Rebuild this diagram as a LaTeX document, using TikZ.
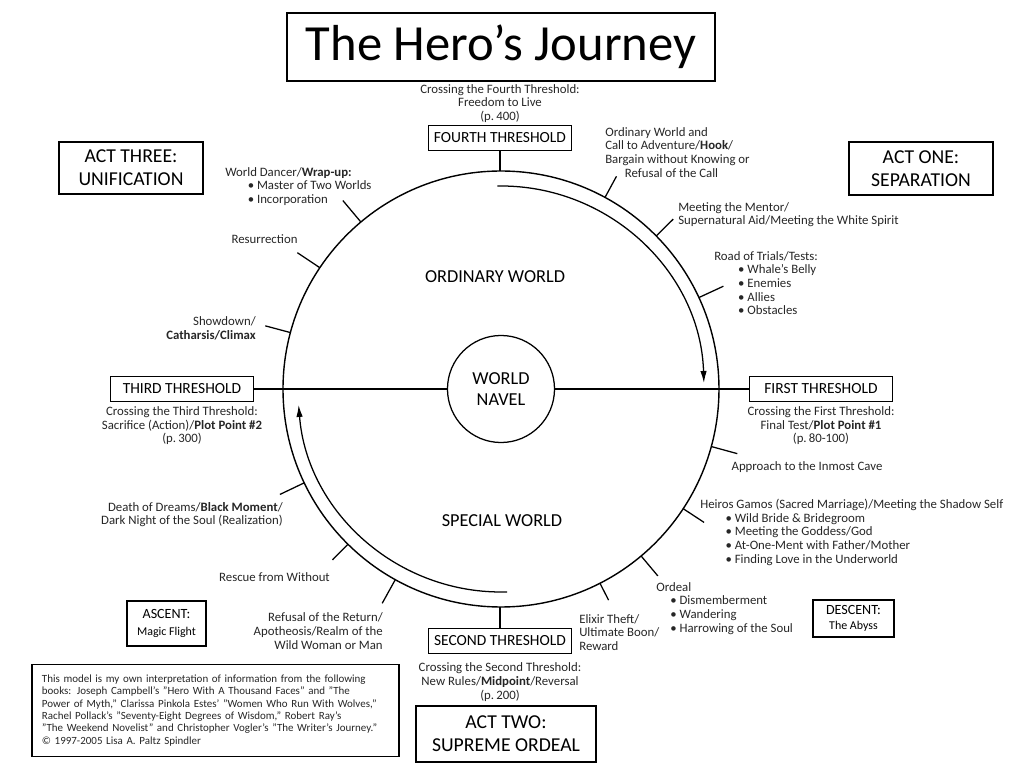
\documentclass[tikz,border=0pt]{standalone}
\usepackage{fontspec}
\setmainfont{Carlito}
\usetikzlibrary{arrows.meta,positioning}

\newcommand{\bul}[2][1.2em]{\hspace*{#1}\textbullet\ #2}

\begin{document}
\begin{tikzpicture}[
  x=0.025cm, y=0.025cm,
  threshold/.style={draw, line width=0.9pt, minimum width=3.575cm, minimum height=0.625cm, inner sep=0pt, font=\fontsize{11}{12}\selectfont},
  act/.style={draw, line width=0.9pt, align=center, inner sep=0pt, font=\fontsize{14}{16.5}\selectfont},
  note/.style={inner sep=0pt, text=black!85, font=\fontsize{9.1}{9.7}\selectfont},
  world/.style={font=\fontsize{13}{14}\selectfont},
  ring/.style={line width=1pt},
  tick/.style={line width=0.9pt},
  arrow/.style={-{Latex[length=3mm,width=1.6mm]}, line width=0.9pt},
]
\useasboundingbox (-501,-380) rectangle (521,389);

% Title
\node[act, minimum width=10.7cm, minimum height=1.7cm, font=\fontsize{36}{40}\selectfont] (title) at (0,342) {The Hero's Journey};

% Circle and world navel
\draw[ring] (0,0) circle (218);
\coordinate (top) at (90:218);
\coordinate (bottom) at (270:218);
\node[draw, circle, line width=0.9pt, minimum size=2.675cm, align=center, inner sep=0pt, font=\fontsize{13}{14.5}\selectfont] (navel) at (0,0) {WORLD\\NAVEL};
\node[world] (ordinary) at (-6,112) {ORDINARY WORLD};
\node[world] (special) at (1,-132) {SPECIAL WORLD};

% Thresholds
\node[threshold] (fourth) at (-1,251) {FOURTH THRESHOLD};
\node[threshold] (first) at (320,0) {FIRST THRESHOLD};
\node[threshold] (second) at (-1,-252) {SECOND THRESHOLD};
\node[threshold] (third) at (-319,0) {THIRD THRESHOLD};
\draw[tick] (fourth) -- (fourth |- top);
\draw[tick] (second) -- (second |- bottom);
\draw[tick] (third) -- (navel);
\draw[tick] (navel) -- (first);

\node[note, align=center, above=1.5pt of fourth] (crossfourth) {Crossing the Fourth Threshold:\\Freedom to Live\\(p.\,400)};
\node[note, align=center, below=3pt of first] (crossfirst) {Crossing the First Threshold:\\Final Test/\textbf{Plot Point \#1}\\(p.\,80-100)};
\node[note, align=center, below=6pt of second] (crosssecond) {Crossing the Second Threshold:\\New Rules/\textbf{Midpoint}/Reversal\\(p.\,200)};
\node[note, align=center, below=3pt of third] (crossthird) {Crossing the Third Threshold:\\Sacrifice (Action)/\textbf{Plot Point \#2}\\(p.\,300)};

% Direction of travel
\draw[arrow] (91:203) arc[start angle=91, end angle=1.7, radius=203];
\draw[arrow] (271.7:203) arc[start angle=271.7, end angle=184.5, radius=203];

% Stages, act one
\draw[tick] (61.5:218) -- (61.5:242);
\node[note, align=left, anchor=north west] (call) at (104,262) {Ordinary World and\\Call to Adventure/\textbf{Hook}/\\Bargain without Knowing or\\\hspace*{14pt}Refusal of the Call};
\draw[tick] (44.6:218) -- (44.6:242);
\node[note, align=left, anchor=north west] (mentor) at (177,187) {Meeting the Mentor/\\Supernatural Aid/Meeting the White Spirit};
\draw[tick] (24.8:218) -- (24.8:245);
\node[note, align=left, anchor=north west] (trials) at (213,138) {Road of Trials/Tests:\\\bul[17pt]{Whale's Belly}\\\bul[17pt]{Enemies}\\\bul[17pt]{Allies}\\\bul[17pt]{Obstacles}};

% Stages, act two
\draw[tick] (-15.3:218) -- (-15.3:245);
\node[note] (cave) at (306,-78) {Approach to the Inmost Cave};
\draw[tick] (-33.3:218) -- (-33.3:243);
\node[note, align=left, anchor=north west] (gamos) at (199,-110) {Heiros Gamos (Sacred Marriage)/Meeting the Shadow Self\\\bul[18pt]{Wild Bride \& Bridegroom}\\\bul[18pt]{Meeting the Goddess/God}\\\bul[18pt]{At-One-Ment with Father/Mother}\\\bul[18pt]{Finding Love in the Underworld}};
\draw[tick] (-50:218) -- (-50:244);
\node[note, align=left, anchor=north west] (ordeal) at (155,-193) {Ordeal\\\bul[10pt]{Dismemberment}\\\bul[10pt]{Wandering}\\\bul[10pt]{Harrowing of the Soul}};
\draw[tick] (-63:218) -- (-63:237);
\node[note, align=left, anchor=north west] (elixir) at (78,-225) {Elixir Theft/\\Ultimate Boon/\\Reward};
\draw[tick] (241:218) -- (241:245);
\node[note, align=right, anchor=east] (refusal) at (-118,-242) {Refusal of the Return/\\Apotheosis/Realm of the\\Wild Woman or Man};
\draw[tick] (225.4:218) -- (225.4:240);
\node[note] (rescue) at (-226.5,-188) {Rescue from Without};
\draw[tick] (205.5:218) -- (205.5:245);
\node[note, align=right, anchor=east] (dreams) at (-218,-125.5) {Death of Dreams/\textbf{Black Moment}/\\Dark Night of the Soul (Realization)};

% Stages, act three
\draw[tick] (165:218) -- (165:244);
\node[note, align=right, anchor=east] (showdown) at (-245,60.5) {Showdown/\\\textbf{Catharsis/Climax}};
\draw[tick] (146.2:218) -- (146.2:245);
\node[note] (resurrection) at (-236.5,150) {Resurrection};
\draw[tick] (130:218) -- (130:246);
\node[note, align=left, anchor=north west] (dancer) at (-276,222) {World Dancer/\textbf{Wrap-up:}\\\bul[16pt]{Master of Two Worlds}\\\bul[16pt]{Incorporation}};

% Acts
\node[act, minimum width=3.6cm, minimum height=1.3cm] (actthree) at (-370,221) {ACT THREE:\\UNIFICATION};
\node[act, minimum width=3.6cm, minimum height=1.325cm] (actone) at (420,220.5) {ACT ONE:\\SEPARATION};
\node[act, minimum width=4.5cm, minimum height=1.4cm] (acttwo) at (5,-345) {ACT TWO:\\SUPREME ORDEAL};
\node[act, minimum width=2.025cm, minimum height=0.925cm, font=\fontsize{10}{10.5}\selectfont] (descent) at (352.5,-229.5) {DESCENT:\\{\fontsize{8.5}{9}\selectfont The Abyss}};
\node[act, minimum width=1.975cm, minimum height=1.125cm, font=\fontsize{10}{11.5}\selectfont] (ascent) at (-334.5,-234.5) {ASCENT:\\{\fontsize{8.5}{9}\selectfont Magic Flight}};

% Sources
\node[draw, line width=0.8pt, minimum width=9.175cm, minimum height=2.275cm, text width=8.675cm, align=left, inner sep=0.25cm, text=black!85, font=\fontsize{7.8}{8.8}\selectfont] (source) at (-285.5,-321.5) {This model is my own interpretation of information from the following\\books: Joseph Campbell's "Hero With A Thousand Faces" and "The\\Power of Myth," Clarissa Pinkola Estes' "Women Who Run With Wolves,"\\Rachel Pollack's "Seventy-Eight Degrees of Wisdom," Robert Ray's\\"The Weekend Novelist" and Christopher Vogler's "The Writer's Journey."\\\textcopyright{} 1997-2005 Lisa A. Paltz Spindler};

\end{tikzpicture}
\end{document}
